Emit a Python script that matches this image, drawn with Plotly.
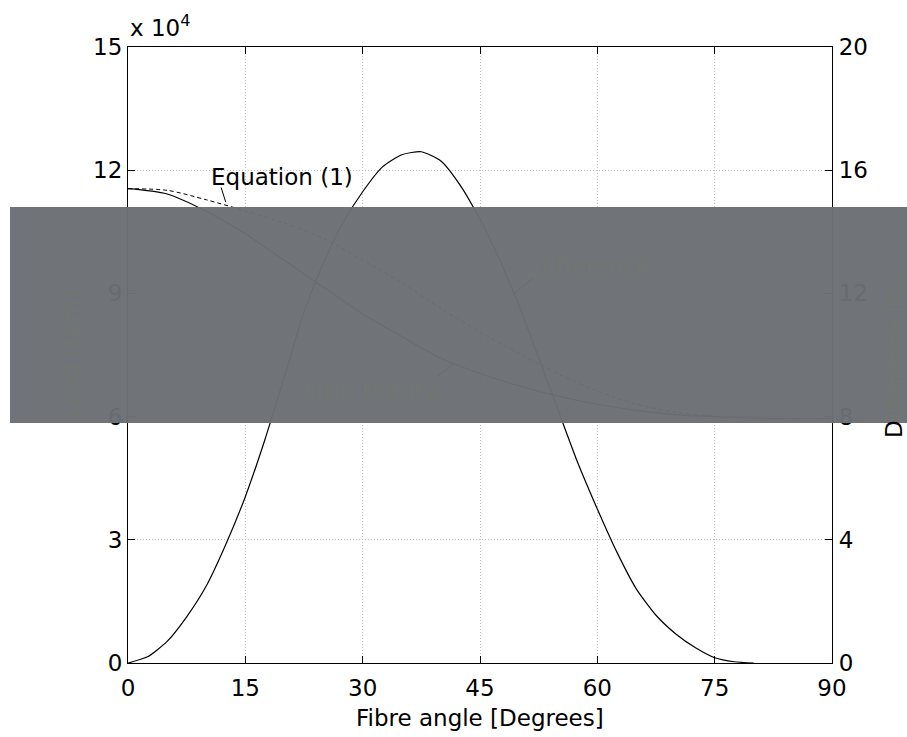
import plotly.graph_objects as go

# ---- data ----
angle_load = [0, 5, 10, 15, 20, 25, 30, 35, 40, 45, 50, 55, 60, 65, 70, 75, 80, 85, 90]
load_equation1 = [11.55, 11.51, 11.28, 11.01, 10.71, 10.34, 9.81, 9.26, 8.63, 8.06,
                  7.54, 7.04, 6.62, 6.30, 6.11, 6.01, 5.97, 5.95, 5.95]   # x 10^4 N/m
load_strip = [11.55, 11.42, 11.00, 10.45, 9.80, 9.15, 8.50, 7.95, 7.42, 7.05,
              6.75, 6.50, 6.30, 6.15, 6.05, 6.00, 5.97, 5.95, 5.95]        # x 10^4 N/m

angle_diff = [0, 2.5, 5, 7.5, 10, 12.5, 15, 17.5, 20, 22.5, 25, 27.5, 30, 32.5, 35,
              37.5, 40, 42.5, 45, 47.5, 50, 52.5, 55, 57.5, 60, 62.5, 65, 67.5, 70,
              72.5, 75, 77.5, 80]
difference = [0, 0.2, 0.7, 1.5, 2.5, 3.85, 5.4, 7.25, 9.3, 11.4, 13.0, 14.3, 15.3, 16.1,
              16.5, 16.6, 16.3, 15.5, 14.4, 13.1, 11.6, 9.9, 8.2, 6.5, 5.0, 3.6, 2.4,
              1.55, 0.95, 0.5, 0.17, 0.04, 0]

x_ticks = [0, 15, 30, 45, 60, 75, 90]
y_left_ticks = [0, 3, 6, 9, 12, 15]
y_right_ticks = [0, 4, 8, 12, 16, 20]

# ---- layout geometry ----
W, H = 907, 737
L, R, T, B = 128, 832, 47, 663
FONT = "DejaVu Sans"
FS = 23


def px_x(px):
    return (px - L) / (R - L)


def px_y(py):
    return (B - py) / (B - T)


faint = "rgb(114,118,112)"

fig = go.Figure()
fig.add_trace(go.Scatter(x=angle_load, y=load_equation1, mode="lines",
                         line=dict(color="black", width=1, dash="4px,3px",
                                   shape="spline", smoothing=0.8),
                         name="Equation (1)", showlegend=False))
fig.add_trace(go.Scatter(x=angle_load, y=load_strip, mode="lines",
                         line=dict(color="black", width=1.2, shape="spline", smoothing=0.8),
                         name="strip theory", showlegend=False))
fig.add_trace(go.Scatter(x=angle_diff, y=difference, mode="lines", yaxis="y2",
                         line=dict(color="black", width=1.2, shape="spline", smoothing=0.6),
                         name="difference", showlegend=False))

axis_common = dict(showline=True, linecolor="black", linewidth=1.2,
                   ticks="inside", ticklen=7, tickcolor="black", tickwidth=1,
                   zeroline=False, tickfont=dict(family=FONT, size=FS, color="black"))
grid = dict(showgrid=True, gridcolor="#bdbdbd", griddash="1px,2px", gridwidth=1)

fig.update_layout(
    width=W, height=H,
    margin=dict(l=L, r=W - R, t=T, b=H - B, pad=0),
    paper_bgcolor="white", plot_bgcolor="white",
    font=dict(family=FONT, size=FS, color="black"),
    xaxis=dict(range=[0, 90], tickvals=x_ticks, mirror="ticks",
               ticklabelstandoff=4, **grid, **axis_common),
    yaxis=dict(range=[0, 15], tickvals=y_left_ticks, mirror=True,
               ticklabelstandoff=0, **grid, **axis_common),
    yaxis2=dict(range=[0, 20], tickvals=y_right_ticks, overlaying="y", side="right",
                showgrid=False, ticklabelstandoff=1, **axis_common),
)

# leader lines (shapes, drawn before the grey band so they are covered by it)
shapes = [
    dict(type="line", xref="x", yref="y", x0=11.9, y0=11.58, x1=12.5, y1=11.22,
         line=dict(color="black", width=1)),
    dict(type="line", xref="x", yref="y", x0=51.8, y0=9.38, x1=49.5, y1=9.02,
         line=dict(color="black", width=1)),
    dict(type="line", xref="x", yref="y", x0=39.5, y0=6.97, x1=41.8, y1=7.31,
         line=dict(color="black", width=1)),
    # grey band
    dict(type="rect", xref="paper", yref="paper", layer="above",
         x0=px_x(10), x1=px_x(907), y0=px_y(423), y1=px_y(207),
         fillcolor="rgb(107,110,116)", opacity=0.97, line=dict(width=0)),
]
fig.update_layout(shapes=shapes)

annotations = [
    dict(text="x 10<sup>4</sup>", xref="paper", yref="paper", x=0, y=px_y(26),
         xanchor="left", yanchor="middle", showarrow=False,
         font=dict(family=FONT, size=FS, color="black")),
    dict(text="Equation (1)", xref="x", yref="y", x=19.7, y=11.84,
         xanchor="center", yanchor="middle", showarrow=False,
         font=dict(family=FONT, size=FS, color="black")),
    dict(text="difference", xref="x", yref="y", x=59.3, y=9.65,
         xanchor="center", yanchor="middle", showarrow=False,
         font=dict(family=FONT, size=FS, color=faint)),
    dict(text="strip theory", xref="x", yref="y", x=30.9, y=6.65,
         xanchor="center", yanchor="middle", showarrow=False,
         font=dict(family=FONT, size=FS, color=faint)),
    dict(text="Fibre angle [Degrees]", xref="paper", yref="paper", x=0.5, y=px_y(718),
         xanchor="center", yanchor="middle", showarrow=False,
         font=dict(family=FONT, size=FS, color="black")),
    dict(text="Load [N/m]", xref="paper", yref="paper", x=px_x(71), y=0.5,
         xanchor="center", yanchor="middle", showarrow=False, textangle=-90,
         font=dict(family=FONT, size=FS, color=faint)),
    dict(text="<span style='color:black'>D</span><span style='color:rgb(114,118,112)'>ifference [%]</span>",
         xref="paper", yref="paper", x=px_x(894), y=0.5,
         xanchor="center", yanchor="middle", showarrow=False, textangle=-90,
         font=dict(family=FONT, size=FS, color="black")),
]
fig.update_layout(annotations=annotations)

fig.write_html("out.html", config={"displayModeBar": False},
               post_script="document.body.style.margin='0px';")
